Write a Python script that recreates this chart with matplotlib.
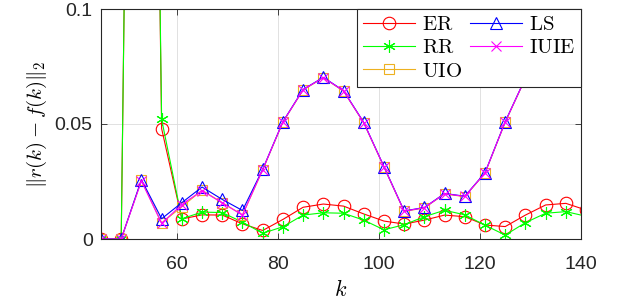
import matplotlib
matplotlib.use("Agg")
import matplotlib.pyplot as plt
import numpy as np

k = [45, 49, 53, 57, 61, 65, 69, 73, 77, 81, 85, 89, 93, 97, 101, 105, 109, 113, 117, 121, 125, 129, 133, 137, 141]

er = [0, 0, 0.7, 0.048, 0.0087, 0.0105, 0.0104, 0.0066, 0.0037, 0.0085, 0.0138, 0.0152, 0.0143, 0.0109,
      0.0078, 0.0065, 0.0082, 0.0104, 0.0097, 0.0061, 0.0054, 0.0104, 0.0148, 0.0155, 0.0126]
rr = [0, 0, 0.7, 0.052, 0.0088, 0.0117, 0.0115, 0.0073, 0.0025, 0.0053, 0.0104, 0.0114, 0.0112, 0.0082,
      0.0040, 0.0062, 0.0097, 0.0125, 0.0105, 0.0060, 0.0017, 0.0071, 0.0112, 0.0119, 0.0099]
uio = [0, 0, 0.0255, 0.0070, 0.0140, 0.0212, 0.0158, 0.0105, 0.0300, 0.0508, 0.0648, 0.0701, 0.0643, 0.0505,
       0.0313, 0.0120, 0.0135, 0.0196, 0.0184, 0.0286, 0.0508, 0.0698, 0.0758, 0.0738, 0.0698]
ls = [0, 0, 0.0258, 0.0088, 0.0158, 0.0226, 0.0172, 0.0124, 0.0303, 0.0510, 0.0650, 0.0703, 0.0645, 0.0507,
      0.0315, 0.0122, 0.0137, 0.0198, 0.0186, 0.0288, 0.0510, 0.0700, 0.0760, 0.0740, 0.0700]
iuie = [0, 0, 0.0252, 0.0068, 0.0150, 0.0210, 0.0157, 0.0104, 0.0302, 0.0509, 0.0649, 0.0702, 0.0644, 0.0506,
        0.0314, 0.0121, 0.0136, 0.0197, 0.0185, 0.0287, 0.0509, 0.0699, 0.0759, 0.0739, 0.0699]

xticks = [60, 80, 100, 120, 140]
yticks = [0, 0.05, 0.1]
yticklabels = ["0", "0.05", "0.1"]

plt.rcParams['mathtext.fontset'] = 'cm'
plt.rcParams['font.family'] = ['Liberation Sans', 'DejaVu Sans']

fig = plt.figure(figsize=(6.17, 3.08), dpi=100)
ax = fig.add_axes([101/617, 1 - 239/308, 480/617, 230/308])

lw = 0.8
ms = 9
mew = 0.8
ax.plot(k, er, color='#ff0000', lw=lw, marker='o', ms=ms, mfc='none', mew=mew, label=r'$\mathrm{ER}$')
ax.plot(k, rr, color='#00ff00', lw=lw, marker=(6, 2, 0), ms=ms, mew=mew, label=r'$\mathrm{RR}$')
ax.plot(k, uio, color='#EDB120', lw=lw, marker='s', ms=ms - 1.5, mfc='none', mew=mew, label=r'$\mathrm{UIO}$')
ax.plot(k, ls, color='#0000ff', lw=lw, marker='^', ms=ms, mfc='none', mew=mew, label=r'$\mathrm{LS}$')
ax.plot(k, iuie, color='#ff00ff', lw=lw, marker='x', ms=ms - 2, mfc='none', mew=mew, label=r'$\mathrm{IUIE}$')

ax.set_xlim(45, 140)
ax.set_ylim(0, 0.1)
ax.set_xticks(xticks)
ax.set_yticks(yticks)
ax.set_yticklabels(yticklabels)
ax.tick_params(direction='in', length=4, width=0.6, labelsize=14, colors='#262626', top=True, right=True)
ax.tick_params(axis='x', pad=12)
ax.tick_params(axis='y', pad=6)
ax.grid(True, color='#dcdcdc', lw=0.6)
ax.set_axisbelow(True)
for s in ax.spines.values():
    s.set_color('#262626')
    s.set_linewidth(0.8)

ax.set_xlabel(r'$k$', fontsize=16, labelpad=5)
ax.set_ylabel(r'$\|r(k)-f(k)\|_2$', fontsize=15, labelpad=4)

leg = ax.legend(ncol=2, loc='upper right', borderaxespad=0, fancybox=False, framealpha=1,
                edgecolor='#262626', prop={'size': 15}, handlelength=2.5, handletextpad=0.3,
                labelspacing=0.2, columnspacing=0.4, borderpad=0.3)
leg.get_frame().set_linewidth(0.8)
leg.set_zorder(10)

fig.savefig('out.png', dpi=100)
